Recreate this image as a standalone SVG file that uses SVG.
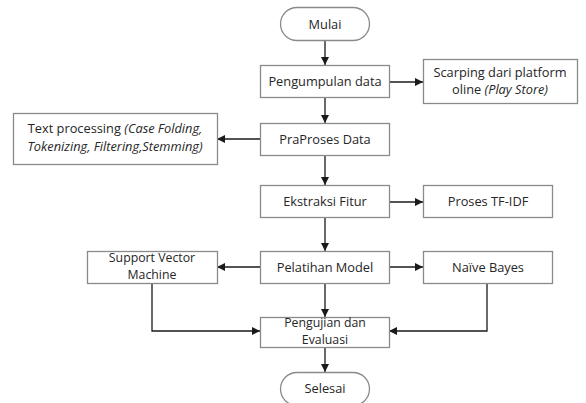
<svg xmlns="http://www.w3.org/2000/svg" width="586" height="403" viewBox="0 0 586 403">
<style>
.box{fill:#fff;stroke:#8a8a8a;stroke-width:1.3}
.t{font-family:"Open Sans","Liberation Sans",sans-serif;font-size:12.8px;fill:#262626;text-anchor:middle}
.s{font-size:12.3px}
.i{font-style:italic}
.c{fill:none;stroke:#1a1a1a;stroke-width:1.3}
</style>
<defs>
<marker id="ah" viewBox="0 0 10 10" refX="10" refY="5" markerWidth="8" markerHeight="8" markerUnits="userSpaceOnUse" orient="auto">
<path d="M0,0 L10,5 L0,10 z" fill="#1a1a1a"/>
</marker>
</defs>
<rect width="586" height="403" fill="#fff"/>
<g id="connectors">
<path class="c" d="M325,41 V65" marker-end="url(#ah)"/>
<path class="c" d="M325,98 V123" marker-end="url(#ah)"/>
<path class="c" d="M325,155 V185" marker-end="url(#ah)"/>
<path class="c" d="M325,218 V251" marker-end="url(#ah)"/>
<path class="c" d="M325,283 V317" marker-end="url(#ah)"/>
<path class="c" d="M325,347 V372" marker-end="url(#ah)"/>
<path class="c" d="M389,82 H423" marker-end="url(#ah)"/>
<path class="c" d="M260,139 H217" marker-end="url(#ah)"/>
<path class="c" d="M389,202 H423" marker-end="url(#ah)"/>
<path class="c" d="M260,267 H217" marker-end="url(#ah)"/>
<path class="c" d="M389,267 H423" marker-end="url(#ah)"/>
<path class="c" d="M152,283 V331 H260" marker-end="url(#ah)"/>
<path class="c" d="M487,283 V331 H389" marker-end="url(#ah)"/>
</g>
<g id="mulai">
<rect class="box" x="280.5" y="7.5" width="89" height="33" rx="16.5"/>
<text class="t" x="325" y="29">Mulai</text>
</g>
<g id="pengumpulan">
<rect class="box" x="260.5" y="65.5" width="129" height="32"/>
<text class="t" x="325" y="86">Pengumpulan data</text>
</g>
<g id="scarping">
<rect class="box" x="423.5" y="59.5" width="154" height="44"/>
<text class="t" x="500" y="77">Scarping dari platform</text>
<text class="t" x="500" y="94">oline <tspan class="i">(Play Store)</tspan></text>
</g>
<g id="praproses">
<rect class="box" x="260.5" y="123.5" width="129" height="32"/>
<text class="t" x="325" y="144">PraProses Data</text>
</g>
<g id="textprocessing">
<rect class="box" x="13.5" y="113.5" width="204" height="51"/>
<text class="t" x="115" y="133">Text processing <tspan class="i">(Case Folding,</tspan></text>
<text class="t i" x="115" y="151">Tokenizing, Filtering,Stemming)</text>
</g>
<g id="ekstraksi">
<rect class="box" x="260.5" y="185.5" width="129" height="32"/>
<text class="t" x="325" y="206">Ekstraksi Fitur</text>
</g>
<g id="tfidf">
<rect class="box" x="423.5" y="185.5" width="129" height="32"/>
<text class="t" x="488" y="206">Proses TF-IDF</text>
</g>
<g id="pelatihan">
<rect class="box" x="260.5" y="251.5" width="129" height="32"/>
<text class="t" x="325" y="272">Pelatihan Model</text>
</g>
<g id="svm">
<rect class="box" x="87.5" y="251.5" width="130" height="32"/>
<text class="t s" x="152" y="262">Support Vector</text>
<text class="t s" x="152" y="279">Machine</text>
</g>
<g id="naivebayes">
<rect class="box" x="423.5" y="251.5" width="129" height="32"/>
<text class="t" x="488" y="272">Naïve Bayes</text>
</g>
<g id="pengujian">
<rect class="box" x="260.5" y="317.5" width="129" height="30"/>
<text class="t s" x="325" y="327">Pengujian dan</text>
<text class="t s" x="325" y="344">Evaluasi</text>
</g>
<g id="selesai">
<rect class="box" x="280.5" y="372.5" width="89" height="33" rx="16.5"/>
<text class="t" x="325" y="393">Selesai</text>
</g>
</svg>
